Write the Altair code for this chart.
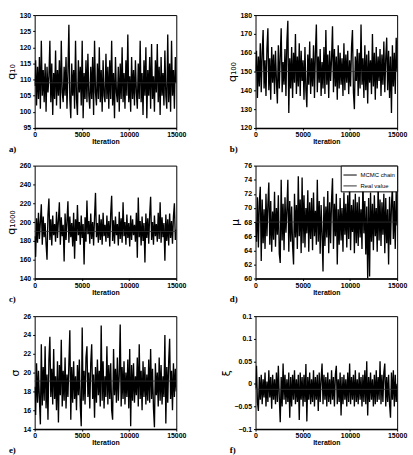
import altair as alt
import pandas as pd

# ---- data ----
q10 = [108, 116, 102, 114, 104, 117, 101, 122, 105, 113,
       103, 115, 100, 114, 106, 111, 122, 103, 115, 99,
       112, 104, 119, 102, 113, 105, 116, 101, 122, 106,
       103, 114, 105, 117, 101, 112, 127, 104, 98, 115,
       105, 113, 101, 122, 104, 99, 116, 106, 114, 102,
       122, 98, 112, 104, 116, 103, 118, 105, 101, 114,
       104, 117, 99, 122, 106, 102, 115, 104, 120, 103,
       113, 100, 116, 105, 103, 118, 104, 114, 101, 116,
       104, 122, 102, 112, 98, 117, 106, 103, 114, 100,
       115, 104, 120, 103, 112, 101, 116, 105, 124, 103,
       111, 100, 117, 104, 113, 102, 116, 106, 101, 115,
       104, 122, 103, 112, 99, 116, 105, 120, 98, 113,
       105, 117, 101, 121, 104, 111, 100, 116, 106, 121,
       103, 114, 99, 117, 105, 112, 102, 119, 105, 101,
       124, 103, 115, 100, 122, 105, 113, 101, 117, 109]

q100 = [150, 161, 136, 158, 142, 165, 139, 160, 172, 141,
        156, 137, 162, 173, 140, 157, 135, 163, 144, 159,
        138, 161, 145, 133, 164, 141, 158, 173, 139, 155,
        143, 162, 137, 166, 177, 128, 157, 141, 163, 136,
        160, 144, 170, 138, 158, 142, 165, 137, 161, 145,
        156, 135, 163, 140, 131, 159, 143, 166, 138, 157,
        142, 164, 136, 160, 175, 139, 158, 144, 162, 137,
        155, 141, 163, 138, 172, 143, 159, 136, 161, 145,
        157, 174, 139, 162, 142, 158, 135, 164, 141, 160,
        143, 157, 137, 165, 140, 159, 144, 161, 138, 156,
        142, 163, 172, 139, 130, 158, 145, 162, 137, 160,
        141, 175, 143, 157, 136, 164, 140, 159, 133, 161,
        144, 156, 138, 170, 142, 160, 135, 163, 141, 158,
        145, 162, 137, 159, 143, 166, 139, 157, 168, 140,
        161, 136, 158, 128, 164, 142, 160, 138, 168, 150]

q1000 = [185, 163, 204, 178, 210, 182, 200, 219, 176, 206,
         184, 199, 177, 160, 208, 225, 181, 203, 175, 207,
         186, 198, 179, 211, 183, 202, 221, 176, 205, 185,
         197, 158, 209, 181, 201, 222, 178, 206, 184, 199,
         174, 210, 161, 203, 180, 218, 186, 200, 176, 207,
         183, 198, 155, 205, 179, 223, 187, 201, 177, 209,
         182, 200, 175, 206, 231, 184, 199, 178, 208, 181,
         203, 176, 210, 185, 197, 179, 207, 183, 201, 174,
         209, 228, 180, 202, 177, 206, 186, 198, 175, 211,
         182, 204, 178, 221, 185, 200, 176, 208, 183, 199,
         174, 207, 181, 203, 186, 197, 179, 210, 162, 226,
         184, 201, 175, 206, 180, 199, 157, 209, 183, 204,
         177, 208, 227, 181, 200, 176, 207, 185, 198, 179,
         210, 182, 221, 178, 205, 184, 199, 159, 208, 180,
         203, 175, 209, 183, 201, 177, 206, 220, 181, 192]

mu = [68, 65.2, 71.5, 64.4, 70.8, 73, 62.5, 71.2, 65, 69.8,
      64.2, 72, 66, 70.5, 73.6, 64.8, 71, 63.8, 69.5, 65.5,
      72.3, 64.5, 70, 66.2, 71.8, 63.5, 62.2, 74, 65.4, 70.6,
      64, 71.5, 66.5, 69.8, 74, 63.8, 71, 65.2, 70.2, 64.6,
      62, 72, 65.8, 70.4, 64.2, 74.5, 66, 71.2, 63.6, 74.3,
      65, 71.8, 64.4, 70, 66.4, 72.5, 63.8, 70.8, 65.6, 71.4,
      64, 72.2, 66, 69.6, 64.8, 74, 65.2, 71, 63.5, 70.4,
      66.2, 61, 71.6, 64.6, 70.2, 65.8, 72.4, 63.6, 70.8, 65,
      71.2, 74.2, 64.2, 70.6, 66, 72, 62, 69.8, 64.8, 71.4,
      65.4, 70, 63.8, 72.2, 66.2, 70.6, 64.4, 71.8, 65.6, 73.5,
      64, 70.4, 66.6, 71.2, 63.6, 72, 65, 70.8, 64.6, 71.6,
      65.8, 69.8, 64.2, 74, 66.4, 71, 63.4, 70.2, 60, 71.4,
      60.3, 72.2, 65.2, 70.6, 64, 71.8, 66, 70, 63.8, 73.5,
      65.4, 71.2, 64.6, 70.8, 66.2, 72, 63.6, 71.4, 65, 69.8,
      62, 71.6, 64.8, 70.4, 73, 65.6, 71, 64.2, 72.4, 67.5]

sigma = [18.5, 15.5, 21, 16.8, 20.2, 17.2, 14.5, 23, 16.5, 20.6,
         17, 22.8, 16.2, 19.8, 15, 21.4, 23.8, 17.4, 20.4, 16.6,
         22.5, 17.2, 19.6, 16, 21.2, 14.7, 20.8, 17.6, 23.5, 16.4,
         20.2, 17, 21.6, 16.2, 19.8, 17.4, 21, 24.5, 15, 20.6,
         16.8, 21.2, 17.2, 19.6, 16, 20.8, 17.6, 21.4, 16.4, 14.3,
         24.8, 17, 20.2, 16.6, 21.6, 22.8, 17.4, 20, 16.2, 21,
         23, 17.2, 19.8, 15.2, 20.6, 16.8, 21.4, 17.6, 20.2, 16.4,
         25, 17, 21.2, 16.2, 19.6, 17.4, 22.8, 16.6, 20.8, 17.2,
         21, 16, 15, 22.5, 17.6, 20.4, 16.8, 21.6, 17, 19.8,
         25.1, 16.4, 20.6, 17.2, 21.2, 16.6, 20, 17.4, 21.4, 16.2,
         22.5, 14.3, 20.8, 17, 21, 16.8, 19.6, 17.6, 21.6, 16.4,
         23, 17.2, 20.2, 16, 21.2, 17.4, 20.6, 16.6, 19.8, 17,
         21.4, 16.8, 22.5, 17.2, 20.4, 16.2, 14.2, 21, 17.6, 20,
         16.4, 21.6, 17, 20.8, 16.6, 19.6, 17.4, 24, 14.6, 20.6,
         16.8, 21.2, 23.6, 17.2, 20.2, 16, 21, 17.4, 20.4, 18]

xi = [-0.01, 0.04, -0.04, -0.06, 0.015, -0.035, 0.02, -0.045, 0.01, -0.03,
      0.025, -0.05, 0.005, -0.04, 0.03, -0.03, 0.015, -0.055, 0.02, -0.035,
      0.01, -0.045, 0.025, -0.04, 0.04, -0.03, -0.085, 0.015, -0.05, 0.045,
      -0.035, 0.02, -0.045, 0.01, -0.04, 0.025, -0.075, 0.015, -0.05, 0.02,
      -0.035, 0.03, -0.045, 0.01, -0.04, 0.02, -0.08, 0.025, -0.035, 0.015,
      -0.05, 0.02, -0.04, 0.044, -0.083, 0.015, -0.035, 0.025, -0.045, 0.01,
      -0.04, 0.03, -0.05, 0.015, -0.035, 0.02, -0.06, 0.025, -0.04, 0.01,
      0.045, -0.045, 0.02, -0.035, 0.015, -0.05, 0.025, -0.04, 0.01, -0.045,
      0.03, -0.035, 0.015, -0.05, 0.02, 0.04, -0.045, 0.01, -0.04, 0.025,
      -0.07, 0.015, -0.045, 0.02, -0.035, 0.01, -0.05, 0.025, -0.04, 0.045,
      -0.045, 0.015, -0.035, 0.02, -0.05, 0.03, -0.04, 0.01, -0.045, 0.025,
      -0.035, 0.015, -0.05, 0.02, -0.04, 0.03, -0.045, 0.05, -0.07, 0.015,
      -0.04, 0.025, -0.035, 0.01, -0.05, 0.02, -0.045, 0.03, -0.04, 0.015,
      -0.035, 0.05, -0.045, 0.02, -0.04, 0.025, 0.045, -0.05, 0.015, -0.04,
      0.02, -0.045, -0.075, 0.025, -0.035, 0.03, -0.05, 0.02, -0.04, 0.0]

real_values = [109, 150, 190, 68, 19.1, -0.012]
y_labels = ["q\u2081\u2080", "q\u2081\u2080\u2080", "q\u2081\u2080\u2080\u2080", "\u03bc", "\u03c3", "\u03be"]
y_domains = [[95, 130], [120, 180], [140, 260], [60, 76], [14, 26], [-0.1, 0.15]]
y_ticks = [[95, 100, 105, 110, 115, 120, 125, 130],
           [120, 130, 140, 150, 160, 170, 180],
           [140, 160, 180, 200, 220, 240, 260],
           [60, 62, 64, 66, 68, 70, 72, 74, 76],
           [14, 16, 18, 20, 22, 24, 26],
           [-0.1, -0.05, 0, 0.05, 0.1, 0.15]]
x_ticks = [0, 5000, 10000, 15000]
panel_letters = ["a)", "b)", "c)", "d)", "e)", "f)"]
series_names = ["MCMC chain", "Real value"]
N_ITER = 15000

FONT = "Liberation Sans"


def panel(values, idx, legend=False):
    n = len(values)
    iters = [round(i * N_ITER / (n - 1)) for i in range(n)]
    df = pd.DataFrame({"iteration": iters, "value": values, "series": series_names[0]})
    rdf = pd.DataFrame({"value": [real_values[idx]], "series": [series_names[1]]})

    x = alt.X("iteration:Q",
              scale=alt.Scale(domain=[0, N_ITER], nice=False),
              axis=alt.Axis(values=x_ticks, format="d", title="Iteration",
                            labelFlush=False, labelOverlap=False))
    y = alt.Y("value:Q",
              scale=alt.Scale(domain=y_domains[idx], nice=False, zero=False),
              axis=alt.Axis(values=y_ticks[idx], format="~r", title=y_labels[idx],
                            labelOverlap=False, labelBound=False))
    if legend:
        color = alt.Color("series:N",
                          scale=alt.Scale(domain=series_names, range=["black", "#333333"]),
                          legend=alt.Legend(title=None, orient="top-right", offset=0,
                                            symbolType="stroke", symbolSize=180,
                                            symbolStrokeWidth=1, labelFontSize=6,
                                            labelFont=FONT, strokeColor="black",
                                            fillColor="white", padding=2,
                                            rowPadding=0, labelOffset=3))
        c_line = color
        c_rule = color
    else:
        c_line = alt.value("black")
        c_rule = alt.value("#333333")

    line = alt.Chart(df).mark_line(strokeWidth=1.35, clip=True).encode(x=x, y=y, color=c_line)
    rule = alt.Chart(rdf).mark_rule(strokeWidth=0.8).encode(y=y, color=c_rule)
    return alt.layer(line, rule).properties(
        width=143, height=114,
        title=alt.TitleParams(panel_letters[idx], orient="bottom", anchor="start",
                              frame="group", dx=-26, offset=0, fontSize=9,
                              font="Liberation Serif", fontWeight="bold")
    )


series = [q10, q100, q1000, mu, sigma, xi]
panels = [panel(v, i, legend=(i == 3)) for i, v in enumerate(series)]

chart = alt.concat(
    *panels, columns=2, spacing=alt.RowColnumber(row=38, column=80), bounds="flush"
).resolve_scale(
    x="independent", y="independent", color="independent"
).resolve_legend(color="independent").properties(
    padding={"left": 4, "top": 8, "right": 5, "bottom": 0}
).configure(background="white").configure_view(
    stroke="black", strokeWidth=1
).configure_axis(
    labelFont=FONT, labelFontSize=7, labelFontWeight="bold", labelColor="black",
    titleFont="DejaVu Sans", titleFontSize=11, titleFontWeight="normal", titleColor="black",
    tickColor="black", tickSize=2, domain=False, grid=False, labelPadding=2, titlePadding=3,
    labelOverlap=False
).configure_axisX(
    titleFont=FONT, titleFontSize=7, titleFontWeight="bold", titlePadding=0,
    labelPadding=1, domain=True, domainColor="black", domainWidth=1.5
)

chart.save("out.html", embed_options={"renderer": "svg", "actions": False})
